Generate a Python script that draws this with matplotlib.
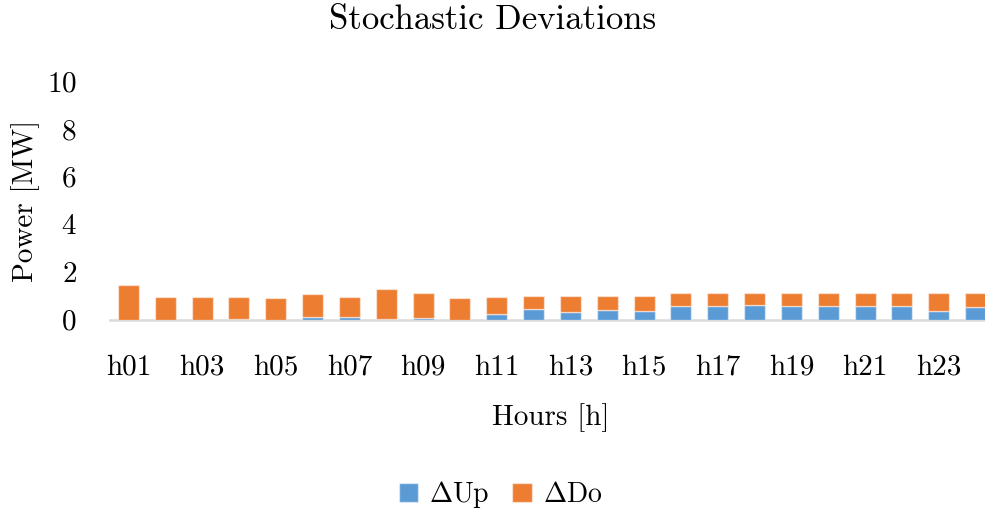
import numpy as np
import matplotlib
matplotlib.use("Agg")
import matplotlib.pyplot as plt

plt.rcParams['font.family'] = 'cmr10'
plt.rcParams['mathtext.fontset'] = 'cm'
plt.rcParams['axes.formatter.use_mathtext'] = True

hours = [f"h{i:02d}" for i in range(1, 25)]
delta_up = [0.00, 0.00, 0.00, 0.03, 0.00, 0.12, 0.10, 0.05, 0.06, 0.00, 0.24, 0.44,
            0.33, 0.41, 0.36, 0.59, 0.59, 0.63, 0.59, 0.59, 0.56, 0.59, 0.36, 0.55]
delta_do = [1.44, 0.94, 0.94, 0.91, 0.93, 0.95, 0.84, 1.24, 1.05, 0.93, 0.73, 0.57,
            0.66, 0.59, 0.64, 0.55, 0.55, 0.51, 0.55, 0.55, 0.58, 0.55, 0.74, 0.58]

blue = '#5B9BD5'
orange = '#ED7D31'

fig = plt.figure(figsize=(9.85, 5.14), dpi=100)
ax = fig.add_axes([0.1117, 0.378, 0.8975, 0.464])

x = np.arange(len(hours))
up = ax.bar(x, delta_up, width=0.57, color=blue, edgecolor=(1, 1, 1, 0.5), linewidth=1, zorder=3)
do = ax.bar(x, delta_do, width=0.57, bottom=delta_up, color=orange,
            edgecolor=(1, 1, 1, 0.5), linewidth=1, zorder=3)

ax.set_xlim(-0.5, len(hours) - 0.5)
ax.set_ylim(0, 10)
ax.set_yticks(range(0, 11, 2))
ax.set_xticks(x[::2])
ax.set_xticklabels(hours[::2])

for s in ['top', 'right', 'left']:
    ax.spines[s].set_visible(False)
ax.spines['bottom'].set_color('#D9D9D9')
ax.spines['bottom'].set_linewidth(1.8)
ax.tick_params(axis='both', length=0, labelsize=21)
ax.tick_params(axis='x', pad=25)
ax.tick_params(axis='y', pad=24)

fig.text(0.5, (514 - 20) / 514, 'Stochastic Deviations', fontsize=25, ha='center', va='center')
ax.set_ylabel('Power [MW]', fontsize=21, labelpad=5)
ax.set_xlabel('Hours [h]', fontsize=21)
ax.xaxis.set_label_coords((551 / 985 - 0.1117) / 0.8975, -97.5 / 238.5)
ax.xaxis.label.set_va('center')

fig.legend([up, do], [r'$\Delta$Up', r'$\Delta$Do'], loc='center', bbox_to_anchor=(0.508, 0.037),
           ncol=2, frameon=False, fontsize=20, handlelength=0.7, handleheight=0.7,
           handletextpad=0.4, columnspacing=0.8)

fig.savefig('out.png', dpi=100)
